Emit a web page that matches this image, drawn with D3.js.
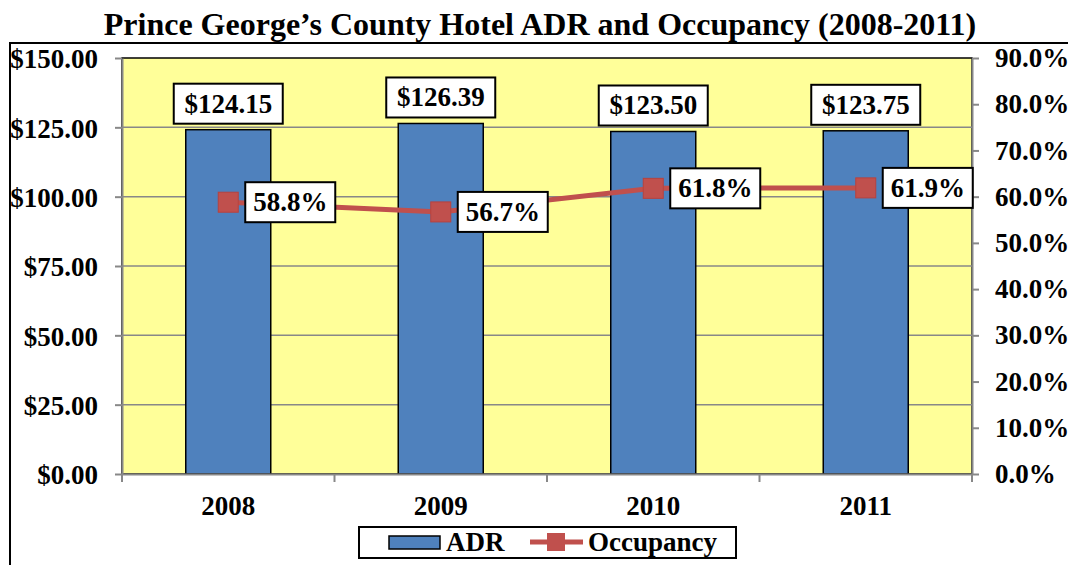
<!DOCTYPE html>
<html>
<head>
<meta charset="utf-8">
<script src="https://cdn.jsdelivr.net/npm/d3@7"></script>
<style>
  body { margin: 0; background: #fff; }
  svg { display: block; font-family: "Liberation Serif", "Times New Roman", serif; font-weight: bold; }
</style>
</head>
<body>
<svg id="chart" width="1068" height="565"></svg>
<script>
var years = ["2008", "2009", "2010", "2011"];
var adr = [124.15, 126.39, 123.50, 123.75];
var occupancy = [58.8, 56.7, 61.8, 61.9];
var adrTicks = [0, 25, 50, 75, 100, 125, 150];
var occTicks = [0, 10, 20, 30, 40, 50, 60, 70, 80, 90];

var svg = d3.select("#chart");
var plot = {left: 122, right: 972, top: 58, bottom: 474};
var fontSize = "27px";

var x = d3.scaleBand().domain(years).range([plot.left, plot.right]).paddingInner(0.6).paddingOuter(0.3);
var y = d3.scaleLinear().domain([0, 150]).range([plot.bottom, plot.top]);
var y2 = d3.scaleLinear().domain([0, 90]).range([plot.bottom, plot.top]);

// outer frame
svg.append("rect")
  .attr("x", 10).attr("y", 43).attr("width", 1100).attr("height", 600)
  .attr("fill", "none").attr("stroke", "#000").attr("stroke-width", 2);

// title
svg.append("text")
  .attr("x", 540).attr("y", 35)
  .attr("text-anchor", "middle")
  .style("font-size", "32px")
  .text("Prince George\u2019s County Hotel ADR and Occupancy (2008-2011)");

// plot area
svg.append("rect")
  .attr("x", plot.left).attr("y", plot.top)
  .attr("width", plot.right - plot.left).attr("height", plot.bottom - plot.top)
  .attr("fill", "#FFFF99").attr("stroke", "#000").attr("stroke-width", 1.5);

// gridlines
svg.append("g").selectAll("line")
  .data(adrTicks.filter(function(d) { return d > 0 && d < 150; }))
  .enter().append("line")
    .attr("x1", plot.left).attr("x2", plot.right)
    .attr("y1", function(d) { return y(d); }).attr("y2", function(d) { return y(d); })
    .attr("stroke", "#888").attr("stroke-width", 1.5);

// bars
svg.append("g").selectAll("rect")
  .data(years)
  .enter().append("rect")
    .attr("x", function(d) { return x(d); })
    .attr("y", function(d, i) { return y(adr[i]); })
    .attr("width", x.bandwidth())
    .attr("height", function(d, i) { return plot.bottom - y(adr[i]); })
    .attr("fill", "#4F81BD").attr("stroke", "#000").attr("stroke-width", 1.5);

// axes
function styleAxis(g) {
  g.select(".domain").attr("stroke", "#888").attr("stroke-width", 2);
  g.selectAll(".tick line").attr("stroke", "#888").attr("stroke-width", 2);
  g.selectAll(".tick text").attr("fill", "#000").style("font-size", fontSize);
  g.attr("font-family", null).attr("font-size", null);
}

svg.append("g")
  .attr("transform", "translate(" + plot.left + ",0)")
  .call(d3.axisLeft(y).tickValues(adrTicks).tickSize(7).tickPadding(17).tickSizeOuter(0)
    .tickFormat(function(d) { return "$" + d3.format(".2f")(d); }))
  .call(styleAxis)
  .selectAll(".tick text").attr("dy", "0.36em");

svg.append("g")
  .attr("transform", "translate(" + plot.right + ",0)")
  .call(d3.axisRight(y2).tickValues(occTicks).tickSize(7).tickPadding(16).tickSizeOuter(0)
    .tickFormat(function(d) { return d3.format(".1f")(d) + "%"; }))
  .call(styleAxis);

var xAxis = svg.append("g")
  .attr("transform", "translate(0," + plot.bottom + ")")
  .call(d3.axisBottom(x).tickSize(0).tickPadding(22).tickSizeOuter(0))
  .call(styleAxis);
xAxis.selectAll(".tick text").attr("dy", "0.71em");

var bounds = d3.range(years.length + 1).map(function(i) { return plot.left + i * x.step(); });
xAxis.selectAll(".bound").data(bounds).enter().append("line")
  .attr("class", "bound")
  .attr("x1", function(d) { return d; }).attr("x2", function(d) { return d; })
  .attr("y1", 0).attr("y2", 8)
  .attr("stroke", "#888").attr("stroke-width", 2);

// occupancy line
var line = d3.line()
  .x(function(d, i) { return x(years[i]) + x.bandwidth() / 2; })
  .y(function(d) { return y2(d); });

svg.append("path")
  .datum(occupancy)
  .attr("d", line)
  .attr("fill", "none").attr("stroke", "#C0504D").attr("stroke-width", 5);

svg.append("g").selectAll("rect")
  .data(occupancy)
  .enter().append("rect")
    .attr("x", function(d, i) { return x(years[i]) + x.bandwidth() / 2 - 10; })
    .attr("y", function(d) { return y2(d) - 10; })
    .attr("width", 20).attr("height", 20)
    .attr("fill", "#C0504D").attr("stroke", "#B8413E").attr("stroke-width", 1);

// bar labels
var barLabels = svg.append("g").selectAll("g")
  .data(adr)
  .enter().append("g")
    .attr("transform", function(d, i) {
      return "translate(" + (x(years[i]) + x.bandwidth() / 2) + "," + (y(d) - 6) + ")";
    });
barLabels.append("rect")
  .attr("x", -54.5).attr("y", -40).attr("width", 109).attr("height", 40)
  .attr("fill", "#fff").attr("stroke", "#000").attr("stroke-width", 2);
barLabels.append("text")
  .attr("y", -11).attr("text-anchor", "middle")
  .style("font-size", fontSize)
  .text(function(d) { return "$" + d3.format(".2f")(d); });

// occupancy labels
var occLabels = svg.append("g").selectAll("g")
  .data(occupancy)
  .enter().append("g")
    .attr("transform", function(d, i) {
      return "translate(" + (x(years[i]) + x.bandwidth() / 2 + 17) + "," + y2(d) + ")";
    });
occLabels.append("rect")
  .attr("x", 0).attr("y", -20).attr("width", 90).attr("height", 40)
  .attr("fill", "#fff").attr("stroke", "#000").attr("stroke-width", 2);
occLabels.append("text")
  .attr("x", 45).attr("y", 9).attr("text-anchor", "middle")
  .style("font-size", fontSize)
  .text(function(d) { return d3.format(".1f")(d) + "%"; });

// legend
var legend = svg.append("g");
legend.append("rect")
  .attr("x", 359).attr("y", 527).attr("width", 377).attr("height", 31)
  .attr("fill", "#fff").attr("stroke", "#000").attr("stroke-width", 2);
legend.append("rect")
  .attr("x", 389).attr("y", 536).attr("width", 51).attr("height", 13)
  .attr("fill", "#4F81BD").attr("stroke", "#000").attr("stroke-width", 1.5);
legend.append("text")
  .attr("x", 446).attr("y", 551)
  .style("font-size", fontSize).text("ADR");
legend.append("line")
  .attr("x1", 530).attr("x2", 583).attr("y1", 542).attr("y2", 542)
  .attr("stroke", "#C0504D").attr("stroke-width", 5);
legend.append("rect")
  .attr("x", 547).attr("y", 533).attr("width", 18).attr("height", 18)
  .attr("fill", "#C0504D");
legend.append("text")
  .attr("x", 588).attr("y", 551)
  .style("font-size", fontSize).text("Occupancy");
</script>
</body>
</html>
